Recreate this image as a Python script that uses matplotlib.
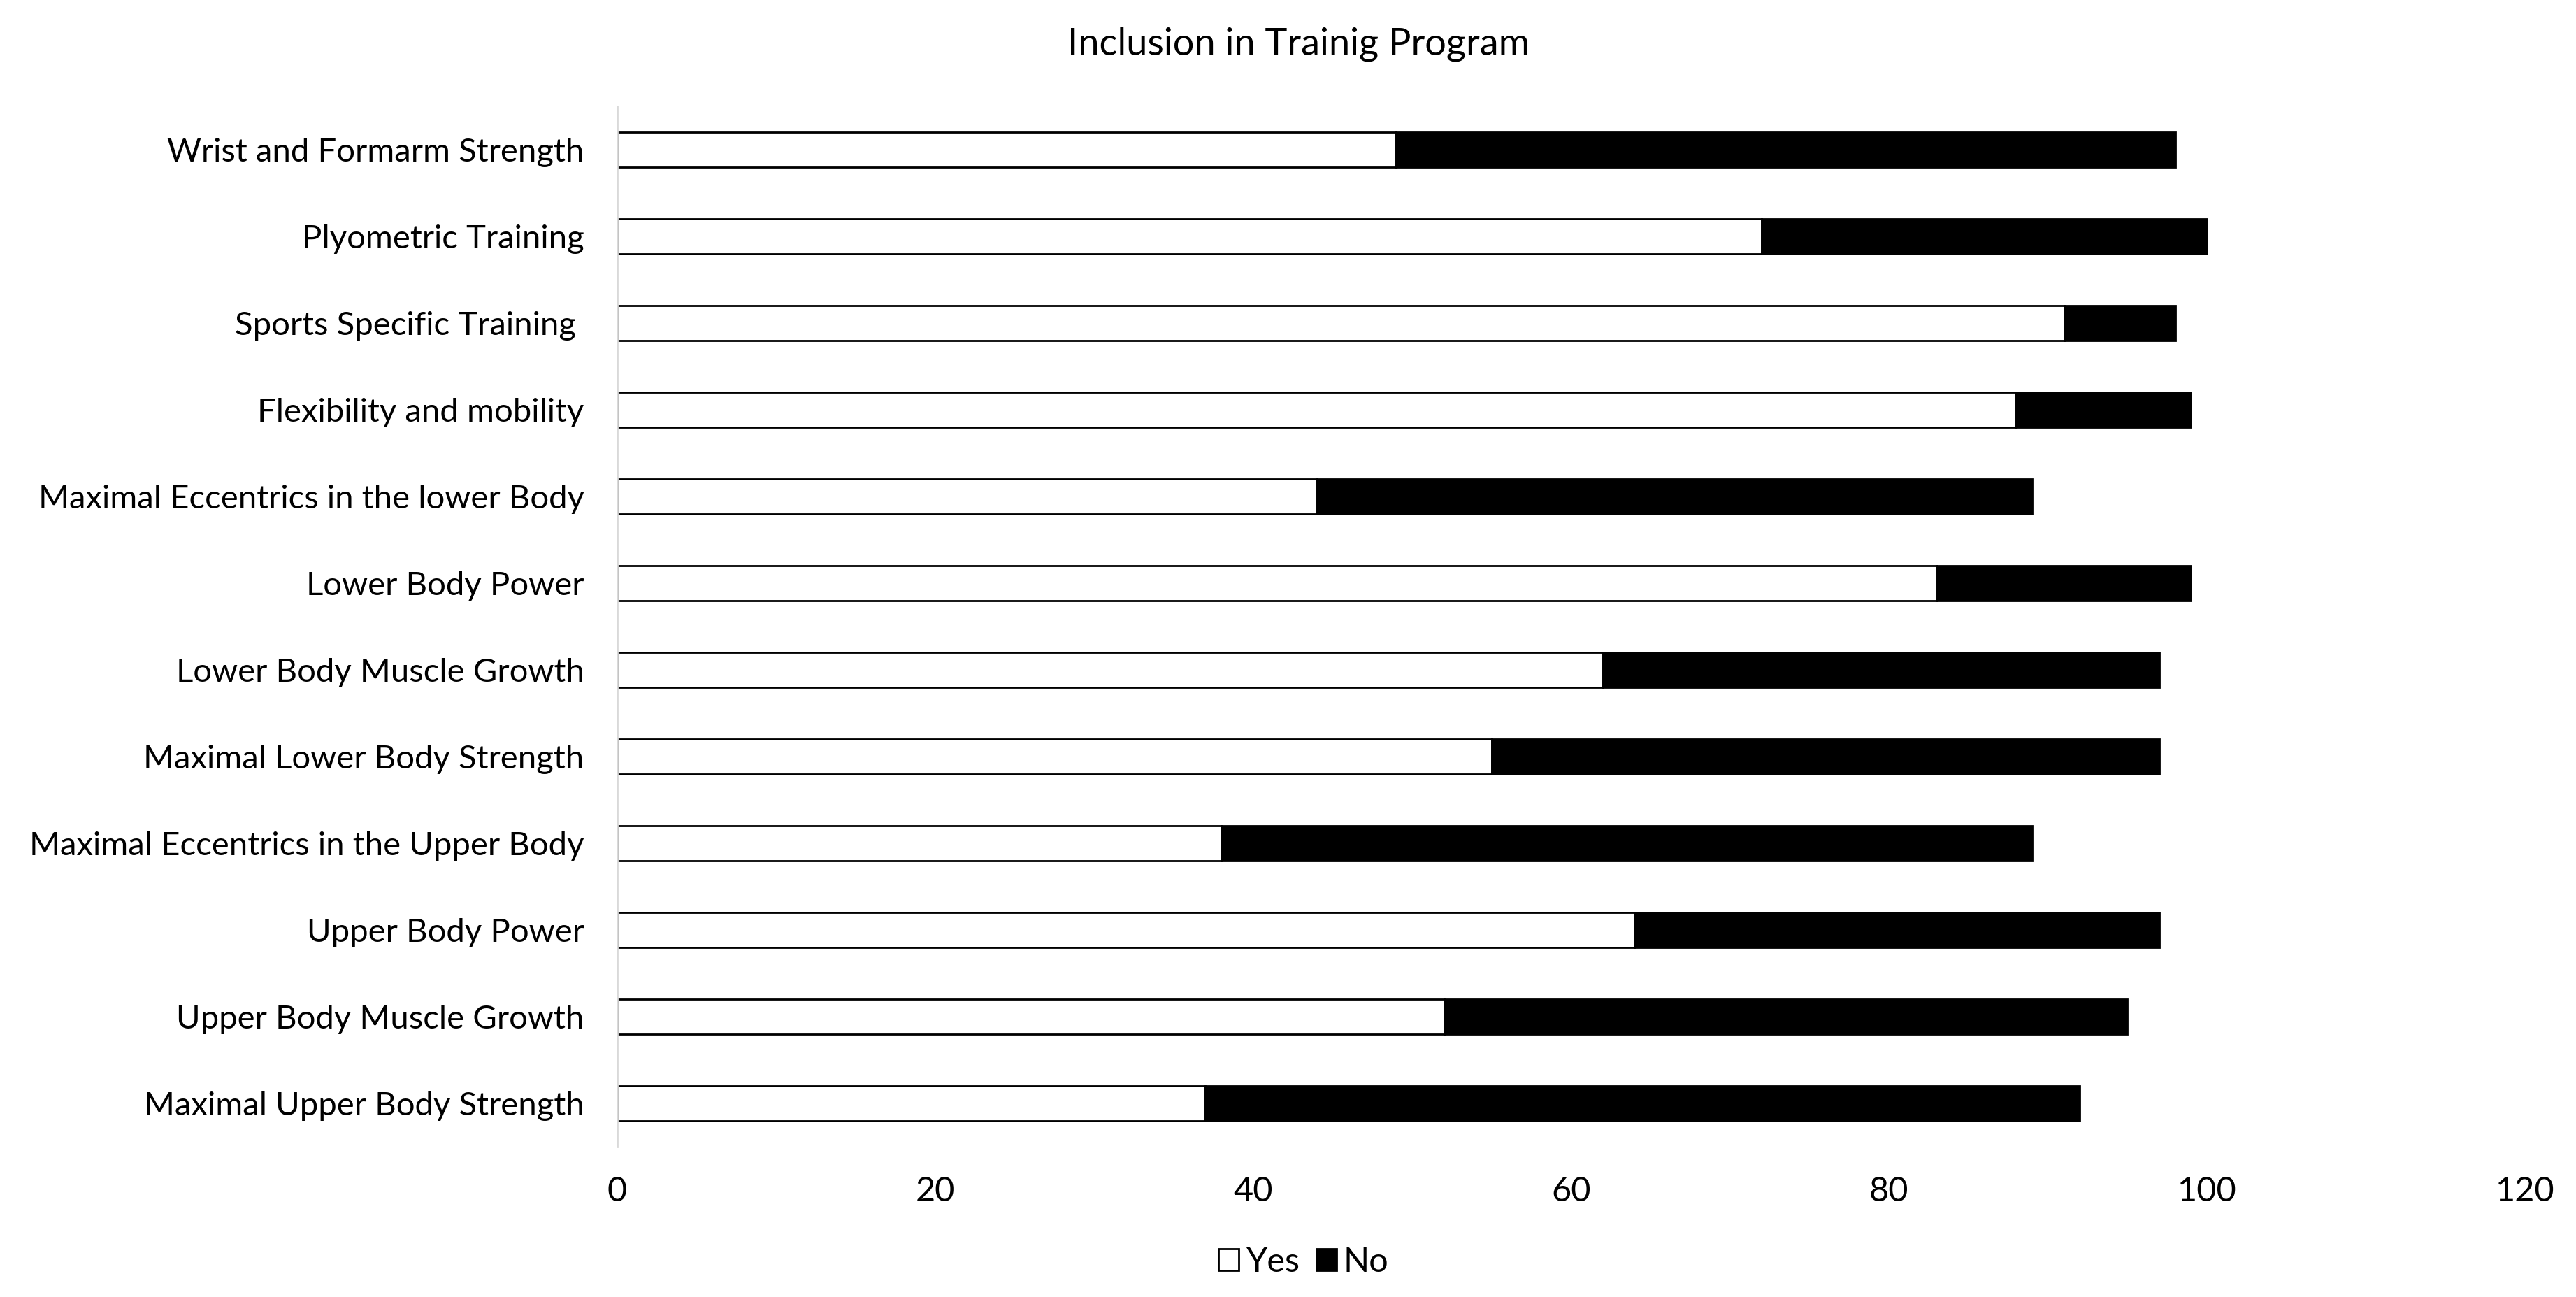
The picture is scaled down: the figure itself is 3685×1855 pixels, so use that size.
import matplotlib.pyplot as plt

categories = [
    "Wrist and Formarm Strength",
    "Plyometric Training",
    "Sports Specific Training ",
    "Flexibility and mobility",
    "Maximal Eccentrics in the lower Body",
    "Lower Body Power",
    "Lower Body Muscle Growth",
    "Maximal Lower Body Strength",
    "Maximal Eccentrics in the Upper Body",
    "Upper Body Power",
    "Upper Body Muscle Growth",
    "Maximal Upper Body Strength",
]
yes = [49, 72, 91, 88, 44, 83, 62, 55, 38, 64, 52, 37]
no = [49, 28, 7, 11, 45, 16, 35, 42, 51, 33, 43, 55]
x_ticks = [0, 20, 40, 60, 80, 100, 120]

plt.rcParams["font.family"] = ["Lato", "DejaVu Sans"]

fig = plt.figure(figsize=(36.85, 18.55), dpi=100)
ax = fig.add_axes([0.2396, 0.1159, 0.7406, 0.802])

pos = range(len(categories))
ax.barh(pos, yes, height=0.4, color="white", edgecolor="black", linewidth=2, label="Yes")
ax.barh(pos, no, left=yes, height=0.4, color="black", edgecolor="black", linewidth=2, label="No")

ax.set_yticks(list(pos))
ax.set_yticklabels(categories, fontsize=34, va="center_baseline")
ax.set_ylim(len(categories) - 0.5, -0.5)
ax.set_xlim(0, 120)
ax.set_xticks(x_ticks)
ax.set_xticklabels([str(t) for t in x_ticks], fontsize=35)
ax.tick_params(axis="both", length=0)
ax.tick_params(axis="y", pad=34)
ax.tick_params(axis="x", pad=30)

for side in ["top", "right", "bottom"]:
    ax.spines[side].set_visible(False)
ax.spines["left"].set_color("#d9d9d9")
ax.spines["left"].set_linewidth(2)

fig.suptitle("Inclusion in Trainig Program", fontsize=39, x=0.504, y=0.979)

fig.legend(loc="center", bbox_to_anchor=(0.506, 0.027), ncol=2, frameon=False,
           fontsize=35, handlelength=0.6, handleheight=0.6, handletextpad=0.2,
           columnspacing=0.5)

fig.savefig("out.png", dpi=100)
